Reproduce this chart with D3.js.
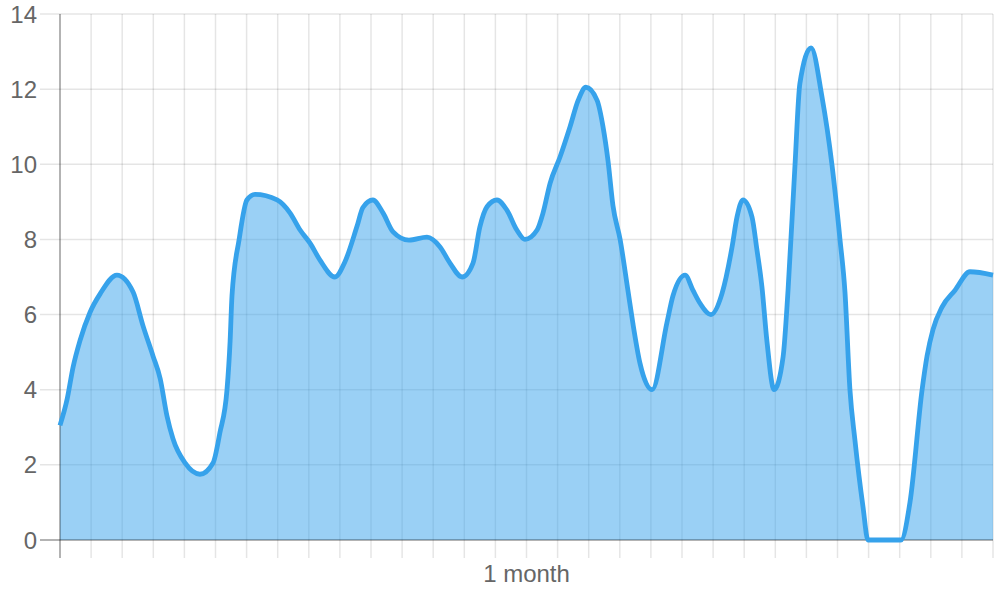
<!DOCTYPE html>
<html>
<head>
<meta charset="utf-8">
<script src="https://cdn.jsdelivr.net/npm/d3@7"></script>
<style>
    html, body { margin: 0; padding: 0; background: #fff; }
    #chart { width: 1000px; height: 600px; }
    text { font-family: "Liberation Sans", Arial, Helvetica, sans-serif; }
</style>
</head>
<body>
<div id="chart"></div>
<script>
// Line / area chart over one month (x in days from start)

const dayOffsets = [
    0, 0.23, 0.42, 0.64, 0.96, 1.29, 1.83, 2.35, 2.67, 2.99,
    3.22, 3.44, 3.63, 4.02, 4.5, 4.92, 5.14, 5.37, 5.47, 5.53,
    5.76, 6.01, 6.27, 6.98, 7.4, 7.72, 8.04, 8.36, 8.84, 9.16,
    9.55, 9.74, 10.06, 10.39, 10.71, 11.22, 11.8, 12.22, 12.54,
    12.93, 13.28, 13.5, 13.73, 14.05, 14.37, 14.69, 14.95, 15.34, 15.53,
    15.76, 16.08, 16.4, 16.66, 16.91, 17.27, 17.46, 17.62, 17.78, 18.01,
    18.26, 18.42, 18.65, 19.04, 19.52, 19.71, 20.1, 20.35, 20.58,
    20.93, 21.29, 21.61, 21.77, 21.96, 22.25, 22.41, 22.57, 22.73,
    22.96, 23.25, 23.41, 23.63, 23.79, 24.15, 24.5, 24.82, 25.08,
    25.24, 25.4, 25.56, 25.82, 25.98, 27.04, 27.33, 27.72, 27.88,
    28.07, 28.36, 28.78, 29.26, 30
];

const values = [
    3.05, 3.75, 4.6, 5.3, 6.05, 6.55, 7.05, 6.6, 5.7, 4.9,
    4.3, 3.3, 2.7, 2.05, 1.75, 2.05, 2.85, 4.0, 5.3, 6.5,
    8.0, 9.05, 9.2, 9.05, 8.7, 8.25, 7.9, 7.45, 7.0, 7.4,
    8.35, 8.85, 9.05, 8.7, 8.2, 7.98, 8.06, 7.8, 7.37,
    7.0, 7.37, 8.33, 8.87, 9.05, 8.78, 8.25, 8.0, 8.25, 8.7,
    9.5, 10.2, 11.0, 11.7, 12.05, 11.7, 11.0, 10.1, 8.9, 8.0,
    6.65, 5.77, 4.7, 4.0, 5.8, 6.5, 7.05, 6.65, 6.3,
    6.0, 6.57, 7.8, 8.6, 9.05, 8.6, 7.72, 6.74, 5.3,
    4.0, 4.87, 6.65, 9.93, 12.15, 13.1, 11.8, 10.0, 8.0,
    6.6, 4.0, 2.66, 0.88, 0, 0, 1.0, 4.0, 4.9,
    5.6, 6.2, 6.65, 7.14, 7.05
];

const yTicks = [0, 2, 4, 6, 8, 10, 12, 14];
const xTickDays = d3.range(0, 31);
const xAxisTitle = "1 month";

const width = 1000;
const height = 600;
const margin = { top: 14, right: 7, bottom: 60, left: 60 };
const innerWidth = width - margin.left - margin.right;
const innerHeight = height - margin.top - margin.bottom;

const lineColor = "#36a2eb";
const gridColor = "rgba(0,0,0,0.1)";
const axisColor = "rgba(0,0,0,0.32)";
const labelColor = "#666";

const data = dayOffsets.map((d, i) => ({ day: d, value: values[i] }));

const svg = d3.select("#chart").append("svg")
    .attr("width", width)
    .attr("height", height);

const root = svg.append("g")
    .attr("transform", `translate(${margin.left},${margin.top})`);

const x = d3.scaleLinear().domain([0, 30]).range([0, innerWidth]);
const y = d3.scaleLinear().domain([0, 14]).range([innerHeight, 0]);

// grid
const grid = root.append("g").attr("class", "grid");

grid.selectAll("line.v")
    .data(xTickDays)
    .join("line")
    .attr("class", "v")
    .attr("x1", d => x(d))
    .attr("x2", d => x(d))
    .attr("y1", 0)
    .attr("y2", innerHeight + 18)
    .attr("stroke", gridColor)
    .attr("stroke-width", 1.5);

grid.selectAll("line.h")
    .data(yTicks)
    .join("line")
    .attr("class", "h")
    .attr("x1", -20)
    .attr("x2", innerWidth)
    .attr("y1", d => y(d))
    .attr("y2", d => y(d))
    .attr("stroke", gridColor)
    .attr("stroke-width", 1.5);

// area + line
const area = d3.area()
    .curve(d3.curveMonotoneX)
    .x(d => x(d.day))
    .y0(innerHeight)
    .y1(d => y(d.value));

const line = d3.line()
    .curve(d3.curveMonotoneX)
    .x(d => x(d.day))
    .y(d => y(d.value));

root.append("path")
    .datum(data)
    .attr("d", area)
    .attr("fill", "rgba(54,162,235,0.5)");

// axis borders
root.append("line")
    .attr("x1", 0).attr("x2", 0)
    .attr("y1", 0).attr("y2", innerHeight + 18)
    .attr("stroke", axisColor)
    .attr("stroke-width", 1.5);

root.append("line")
    .attr("x1", -20).attr("x2", innerWidth)
    .attr("y1", innerHeight).attr("y2", innerHeight)
    .attr("stroke", axisColor)
    .attr("stroke-width", 1.5);

root.append("path")
    .datum(data)
    .attr("d", line)
    .attr("fill", "none")
    .attr("stroke", lineColor)
    .attr("stroke-width", 4.8)
    .attr("stroke-linejoin", "round");

// y labels
root.append("g")
    .selectAll("text")
    .data(yTicks)
    .join("text")
    .attr("x", -23)
    .attr("y", d => y(d))
    .attr("dy", "0.36em")
    .attr("text-anchor", "end")
    .attr("fill", labelColor)
    .style("font-size", "24px")
    .text(d => d);

// x title
root.append("text")
    .attr("x", innerWidth / 2)
    .attr("y", innerHeight + 42)
    .attr("text-anchor", "middle")
    .attr("fill", labelColor)
    .style("font-size", "24px")
    .text(xAxisTitle);
</script>
</body>
</html>
